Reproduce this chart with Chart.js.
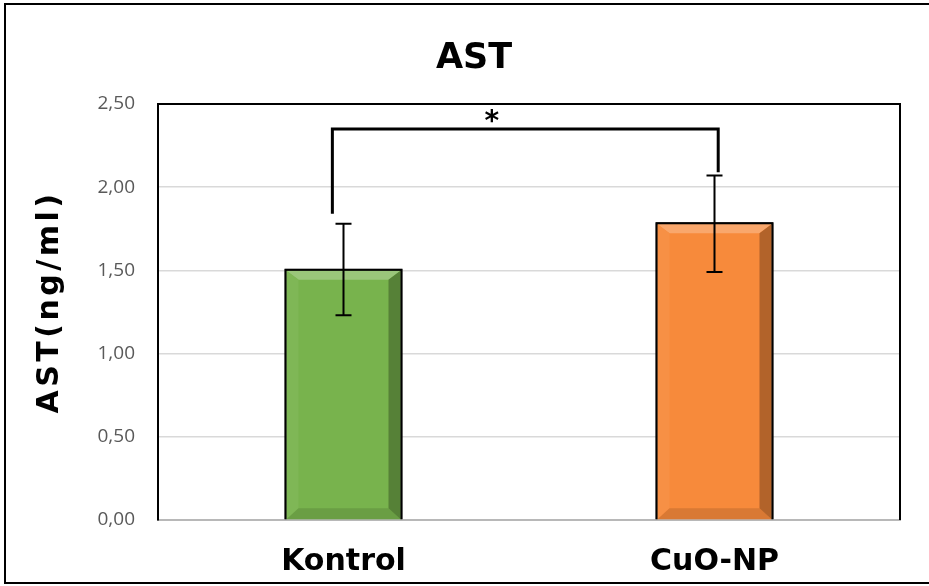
<!DOCTYPE html>
<html>
<head>
<meta charset="utf-8">
<title>AST</title>
<script src="https://cdn.jsdelivr.net/npm/chart.js@4/dist/chart.umd.min.js"></script>
<style>
  html, body { margin: 0; padding: 0; background: #ffffff; }
  canvas { display: block; }
</style>
</head>
<body>
<canvas id="chart" width="929" height="586"></canvas>
<script>
// Group means of serum AST (ng/ml) with their error-bar limits
const categories = ['Kontrol', 'CuO-NP'];
const meanValues = [1.51, 1.79];
const errLow = [1.23, 1.49];
const errHigh = [1.78, 2.07];
const barColors = ['#78b34d', '#f78a3b'];
const yTickLabels = ['0,00', '0,50', '1,00', '1,50', '2,00', '2,50'];
const yAxisTitle = 'AST(ng/ml)';
const chartTitle = 'AST';

// Significance bracket between the two groups
const bracketTop = 2.35;
const bracketLegEnds = [1.84, 2.09];
const significanceMark = '*';

function shade(hex, amt) {
  const n = parseInt(hex.slice(1), 16);
  let r = (n >> 16) & 255, g = (n >> 8) & 255, b = n & 255;
  const f = c => amt >= 0 ? Math.round(c + (255 - c) * amt) : Math.round(c * (1 + amt));
  return 'rgb(' + f(r) + ',' + f(g) + ',' + f(b) + ')';
}

function poly(ctx, pts, color) {
  ctx.beginPath();
  ctx.moveTo(pts[0][0], pts[0][1]);
  for (let i = 1; i < pts.length; i++) ctx.lineTo(pts[i][0], pts[i][1]);
  ctx.closePath();
  ctx.fillStyle = color;
  ctx.fill();
}

const decorPlugin = {
  id: 'decor',
  beforeDraw(chart) {
    const ctx = chart.ctx;
    ctx.save();
    ctx.fillStyle = '#ffffff';
    ctx.fillRect(0, 0, chart.width, chart.height);
    // outer frame
    ctx.strokeStyle = '#000000';
    ctx.lineWidth = 2;
    ctx.strokeRect(5, 4, 940, 579);
    ctx.restore();
  },
  afterDatasetsDraw(chart) {
    const ctx = chart.ctx;
    const xs = chart.scales.x, ys = chart.scales.y;
    const meta = chart.getDatasetMeta(0);
    ctx.save();
    // bevelled bar faces
    meta.data.forEach((bar, i) => {
      const p = bar.getProps(['x', 'y', 'base', 'width'], true);
      const bw = 2;
      const L = p.x - p.width / 2 + bw, R = p.x + p.width / 2 - bw;
      const T = p.y + bw, B = p.base;
      const tb = 9, lb = 12, rb = 12, bb = 11;
      const c = barColors[i];
      poly(ctx, [[L, T], [R, T], [R - rb, T + tb], [L + lb, T + tb]], shade(c, 0.25));
      poly(ctx, [[L, T], [L + lb, T + tb], [L + lb, B - bb], [L, B]], shade(c, 0.05));
      poly(ctx, [[L, B], [R, B], [R - rb, B - bb], [L + lb, B - bb]], shade(c, -0.12));
      poly(ctx, [[R, T], [R, B], [R - rb, B - bb], [R - rb, T + tb]], shade(c, -0.28));
      // redraw the outline over the bevel
      ctx.strokeStyle = '#000000';
      ctx.lineWidth = 2;
      ctx.beginPath();
      ctx.moveTo(p.x - p.width / 2 + 1, p.base);
      ctx.lineTo(p.x - p.width / 2 + 1, p.y + 1);
      ctx.lineTo(p.x + p.width / 2 - 1, p.y + 1);
      ctx.lineTo(p.x + p.width / 2 - 1, p.base);
      ctx.stroke();
    });

    // error bars
    ctx.strokeStyle = '#000000';
    ctx.lineWidth = 2;
    meta.data.forEach((bar, i) => {
      const x = bar.x;
      const yl = ys.getPixelForValue(errLow[i]);
      const yh = ys.getPixelForValue(errHigh[i]);
      ctx.beginPath();
      ctx.moveTo(x, yl); ctx.lineTo(x, yh);
      ctx.moveTo(x - 8, yl); ctx.lineTo(x + 8, yl);
      ctx.moveTo(x - 8, yh); ctx.lineTo(x + 8, yh);
      ctx.stroke();
    });

    // significance bracket
    const xl = xs.getPixelForValue(-0.03);
    const xr = xs.getPixelForValue(1.01);
    const yt = ys.getPixelForValue(bracketTop);
    ctx.lineWidth = 3;
    ctx.lineJoin = 'miter';
    ctx.beginPath();
    ctx.moveTo(xl, ys.getPixelForValue(bracketLegEnds[0]));
    ctx.lineTo(xl, yt);
    ctx.lineTo(xr, yt);
    ctx.lineTo(xr, ys.getPixelForValue(bracketLegEnds[1]));
    ctx.stroke();
    ctx.fillStyle = '#000000';
    ctx.font = 'bold 28px "DejaVu Sans"';
    ctx.textAlign = 'center';
    ctx.textBaseline = 'alphabetic';
    ctx.fillText(significanceMark, xs.getPixelForValue(0.4), yt + 1);
    ctx.restore();
  },
  afterDraw(chart) {
    const ctx = chart.ctx;
    const a = chart.chartArea;
    ctx.save();
    // plot frame: top and right edges
    ctx.strokeStyle = '#000000';
    ctx.lineWidth = 2;
    ctx.beginPath();
    ctx.moveTo(a.left, a.top);
    ctx.lineTo(a.right, a.top);
    ctx.lineTo(a.right, a.bottom);
    ctx.stroke();
    // y-axis title
    ctx.translate(58, (a.top + a.bottom) / 2 - 10);
    ctx.rotate(-Math.PI / 2);
    ctx.font = 'bold 30px "DejaVu Sans"';
    ctx.letterSpacing = '3.5px';
    ctx.fillStyle = '#000000';
    ctx.textAlign = 'center';
    ctx.textBaseline = 'alphabetic';
    ctx.fillText(yAxisTitle, 0, 0);
    ctx.restore();
  }
};

new Chart(document.getElementById('chart'), {
  type: 'bar',
  data: {
    labels: categories,
    datasets: [{
      data: meanValues,
      backgroundColor: barColors,
      borderColor: '#000000',
      borderWidth: 2,
      categoryPercentage: 1,
      barPercentage: 0.318
    }]
  },
  options: {
    responsive: false,
    animation: false,
    layout: { padding: { left: 48, right: 29, top: 0, bottom: 6 } },
    plugins: {
      legend: { display: false },
      tooltip: { enabled: false },
      title: {
        display: true,
        text: chartTitle,
        color: '#000000',
        font: { family: 'DejaVu Sans', size: 35, weight: 'bold', lineHeight: 1.2 },
        padding: { top: 38, bottom: 24 }
      }
    },
    scales: {
      x: {
        afterFit(scale) { scale.height = 60; },
        grid: { display: false, drawTicks: false },
        border: { display: true, color: '#b8b8b8', width: 2 },
        ticks: {
          color: '#000000',
          padding: 24,
          font: { family: 'DejaVu Sans', size: 30, weight: 'bold' }
        }
      },
      y: {
        min: 0,
        max: 2.5,
        afterFit(scale) { scale.width = 110; },
        grid: { color: '#d9d9d9', lineWidth: 1.5, drawTicks: false },
        border: { display: true, color: '#000000', width: 2 },
        ticks: {
          stepSize: 0.5,
          padding: 23,
          color: '#595959',
          font: { family: 'Open Sans', size: 19 },
          callback: (v, i) => yTickLabels[i]
        }
      }
    }
  },
  plugins: [decorPlugin]
});
</script>
</body>
</html>
